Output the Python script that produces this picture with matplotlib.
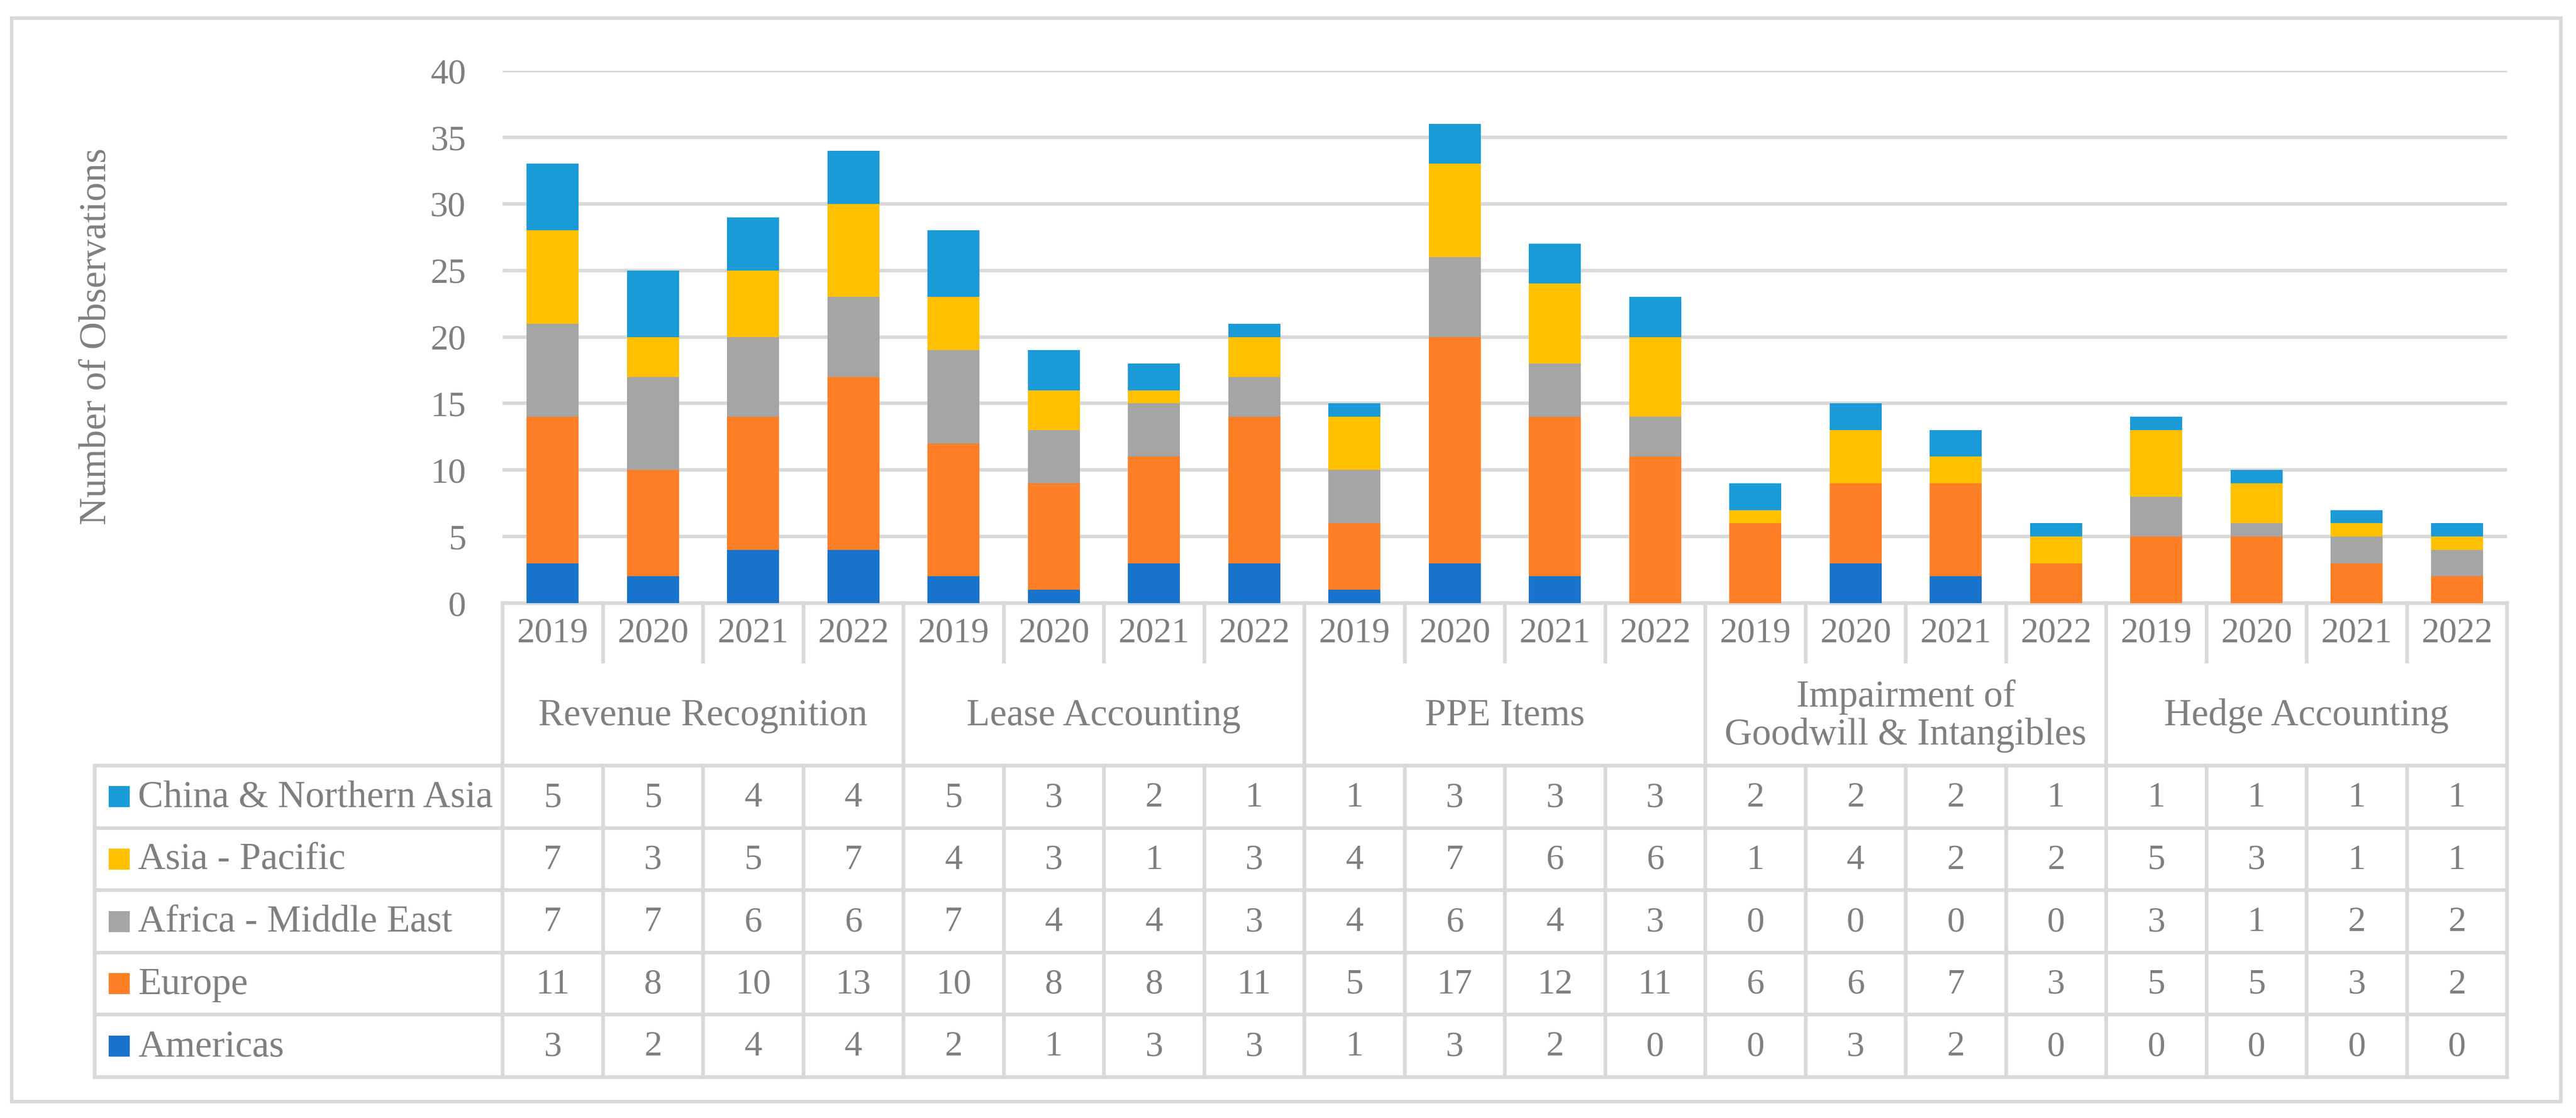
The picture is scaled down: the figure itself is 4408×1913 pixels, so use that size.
import numpy as np
import matplotlib.pyplot as plt

plt.rcParams['font.family'] = ['Liberation Serif', 'DejaVu Serif']

# data
years = ['2019', '2020', '2021', '2022']
topics = ['Revenue Recognition', 'Lease Accounting', 'PPE Items',
          'Impairment of\nGoodwill & Intangibles', 'Hedge Accounting']
regions = ['China & Northern Asia', 'Asia - Pacific', 'Africa - Middle East',
           'Europe', 'Americas']
china = [5, 5, 4, 4, 5, 3, 2, 1, 1, 3, 3, 3, 2, 2, 2, 1, 1, 1, 1, 1]
asia_pacific = [7, 3, 5, 7, 4, 3, 1, 3, 4, 7, 6, 6, 1, 4, 2, 2, 5, 3, 1, 1]
africa_me = [7, 7, 6, 6, 7, 4, 4, 3, 4, 6, 4, 3, 0, 0, 0, 0, 3, 1, 2, 2]
europe = [11, 8, 10, 13, 10, 8, 8, 11, 5, 17, 12, 11, 6, 6, 7, 3, 5, 5, 3, 2]
americas = [3, 2, 4, 4, 2, 1, 3, 3, 1, 3, 2, 0, 0, 3, 2, 0, 0, 0, 0, 0]

series = [china, asia_pacific, africa_me, europe, americas]
colors = ['#1A9BD7', '#FFC000', '#A5A5A5', '#FF7F27', '#1873CC']
GRAY = '#7F7F7F'
LINE = '#D9D9D9'
FS = 44      # numbers
FS_TXT = 47  # words

# layout in pixels (top-down)
W, H = 4408, 1913
X0, X1 = 860, 4290
Y_TOP, Y_ZERO = 121, 1032
Y_YEAR, Y_CAT, Y_END = 1132, 1310, 1843
TAB_LEFT = 162

fig = plt.figure(figsize=(W / 100, H / 100), dpi=100)

# overlay for borders and the data table
ov = fig.add_axes([0, 0, 1, 1])
ov.set_xlim(0, W)
ov.set_ylim(H, 0)
ov.axis('off')
ov.patch.set_visible(False)

lw = 4.6
ov.plot([20, 4382, 4382, 20, 20], [31, 31, 1885, 1885, 31], color=LINE, lw=4.3,
        solid_joinstyle='miter')

n = len(years) * len(topics)
cw = (X1 - X0) / n
rh = (Y_END - Y_CAT) / len(regions)

# horizontal lines
ov.plot([X0, X1], [Y_ZERO, Y_ZERO], color=LINE, lw=lw, solid_capstyle='projecting')
for k in range(len(regions) + 1):
    y = Y_CAT + k * rh
    ov.plot([TAB_LEFT, X1], [y, y], color=LINE, lw=lw, solid_capstyle='projecting')
# vertical lines
ov.plot([TAB_LEFT, TAB_LEFT], [Y_CAT, Y_END], color=LINE, lw=lw, solid_capstyle='projecting')
for j in range(n + 1):
    xx = X0 + j * cw
    if j % len(years) == 0:
        ov.plot([xx, xx], [Y_ZERO, Y_END], color=LINE, lw=lw, solid_capstyle='projecting')
    else:
        ov.plot([xx, xx], [Y_ZERO, Y_YEAR], color=LINE, lw=lw, solid_capstyle='projecting')
        ov.plot([xx, xx], [Y_CAT, Y_END], color=LINE, lw=lw, solid_capstyle='projecting')

# year and topic labels
for j in range(n):
    ov.text(X0 + (j + 0.5) * cw, (Y_ZERO + Y_YEAR) / 2 + 2, years[j % len(years)],
            ha='center', va='center', fontsize=FS, color=GRAY)
for g, t in enumerate(topics):
    cx = X0 + (g + 0.5) * len(years) * cw
    ov.text(cx, (Y_YEAR + Y_CAT) / 2 + 4, t, ha='center', va='center',
            fontsize=FS_TXT, color=GRAY, linespacing=1.1)

# table rows
for r, (name, vals, c) in enumerate(zip(regions, series, colors)):
    cy = Y_CAT + (r + 0.5) * rh
    ov.add_patch(plt.Rectangle((186, cy - 18), 36, 36, color=c, lw=0))
    ov.text(236, cy + 2, name, ha='left', va='center', fontsize=FS_TXT, color=GRAY)
    for j, v in enumerate(vals):
        ov.text(X0 + (j + 0.5) * cw, cy + 2, str(v), ha='center', va='center',
                fontsize=FS, color=GRAY)

# stacked bars
ax = fig.add_axes([X0 / W, 1 - Y_ZERO / H, (X1 - X0) / W, (Y_ZERO - Y_TOP) / H])
x = np.arange(n)
bottom = np.zeros(n)
for vals, c in zip(series[::-1], colors[::-1]):
    ax.bar(x, vals, 0.52, bottom=bottom, color=c, zorder=3, lw=0)
    bottom += np.array(vals)
ax.set_xlim(-0.5, n - 0.5)
ax.set_ylim(0, 40)
ax.set_yticks(range(0, 41, 5))
ax.set_xticks([])
ax.grid(axis='y', color=LINE, lw=4.3, zorder=0)
ax.tick_params(axis='y', length=0, pad=45, labelsize=FS, labelcolor=GRAY)
for s in ax.spines.values():
    s.set_visible(False)
ax.patch.set_visible(False)

fig.text(165 / W, 1 - 576 / H, 'Number of Observations', rotation=90,
         ha='center', va='center', fontsize=FS_TXT, color=GRAY)

fig.savefig('out.png', dpi=100, facecolor='white')
